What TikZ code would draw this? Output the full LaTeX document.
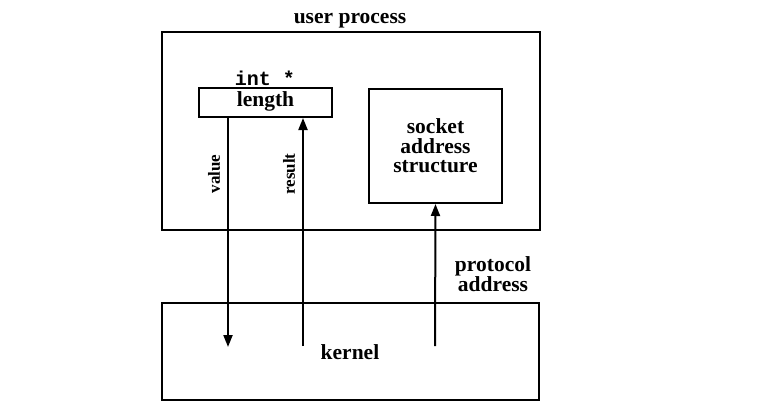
\documentclass[tikz,border=0pt]{standalone}
\usepackage{fontspec}
\setmainfont{Liberation Serif}
\setmonofont{Liberation Mono}
\usetikzlibrary{arrows.meta}
\begin{document}
\begin{tikzpicture}[x=1pt,y=-1pt,
  box/.style={draw,line width=2pt,inner sep=0pt},
  lbl/.style={font=\fontsize{21.5}{19.5}\selectfont\bfseries,inner sep=1pt},
  vlbl/.style={font=\fontsize{17}{19}\selectfont\bfseries,inner sep=1pt,rotate=90},
  conn/.style={line width=2pt},
  tip/.style={-{Triangle[length=12pt,width=9pt]}}]
\useasboundingbox (0,0) rectangle (770,401);
% boxes
\node[box,minimum width=378pt,minimum height=198pt] (user) at (351,131) {};
\node[box,minimum width=133pt,minimum height=29pt] (len) at (265.5,102.5) {};
\node[box,minimum width=133pt,minimum height=114pt] (sock) at (435.5,146) {};
\node[box,minimum width=377pt,minimum height=97pt] (kern) at (350.5,351.5) {};
% texts
\node[lbl] (tuser) at (350,21) {user process};
\node[font=\fontsize{20}{20}\selectfont\ttfamily\bfseries] (tint) at (265,78) {int *};
\node[lbl] (tlen) at (265.5,101) {length};
\node[lbl,align=center] (tsock) at (435.5,146) {socket\\address\\structure};
\node[lbl] (tkern) at (350,352) {kernel};
\node[lbl,align=center,font=\fontsize{21.5}{18}\selectfont\bfseries] (tprot) at (493,274) {protocol\\address};
\node[vlbl] (tval) at (214,174) {value};
\node[vlbl] (tres) at (289,174) {result};
% connectors
\coordinate (vend) at (228,347);
\coordinate (rstart) at (303,346);
\coordinate (pstart) at (435,346);
\draw[conn,tip] (len.south -| vend) -- (vend);
\draw[conn,tip] (rstart) -- (rstart |- len.south);
\draw[conn,tip] (pstart) -- (sock.south);
\end{tikzpicture}
\end{document}
